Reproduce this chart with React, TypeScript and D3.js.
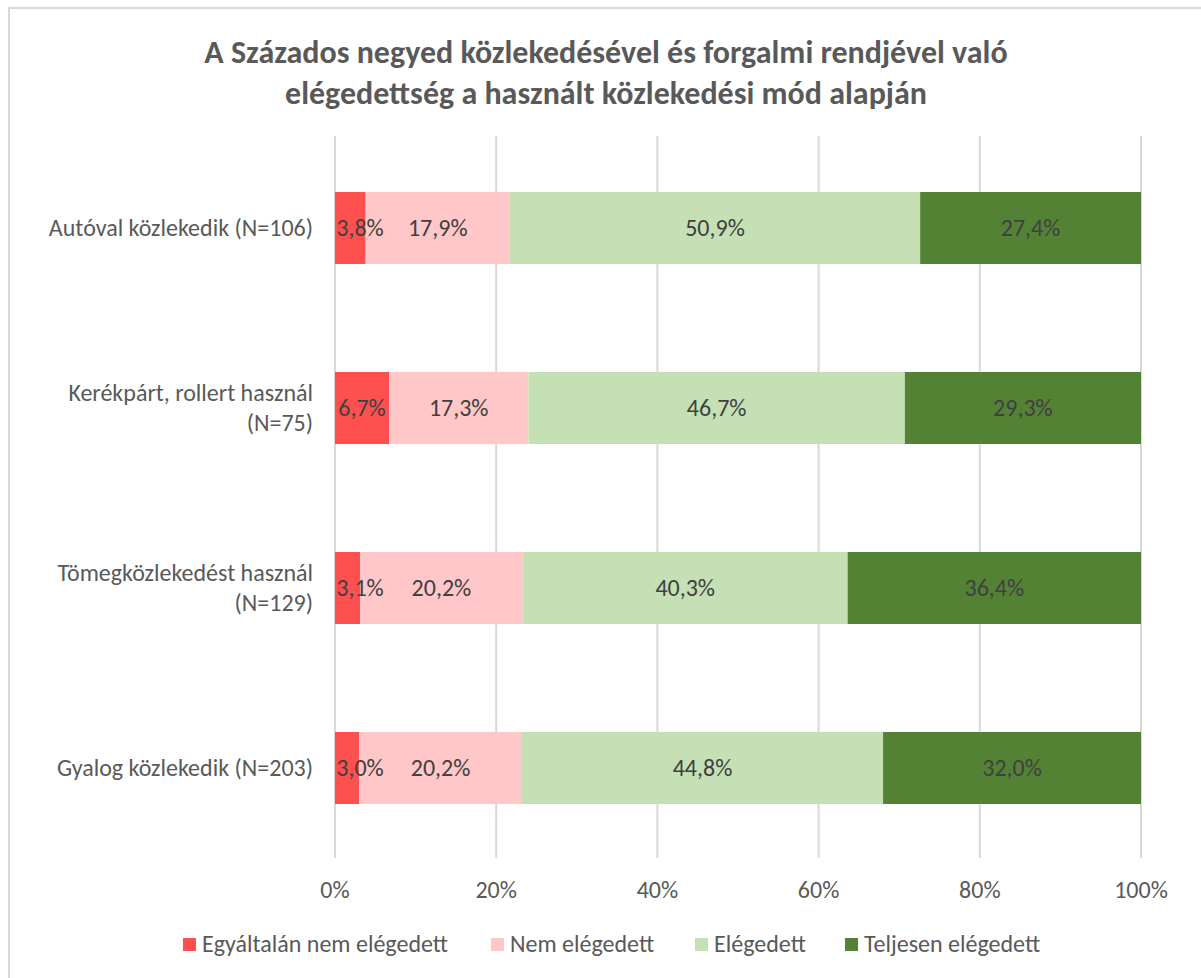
import React from "react";
import * as d3 from "d3";

const categories = [
  ["Autóval közlekedik (N=106)"],
  ["Kerékpárt, rollert használ", "(N=75)"],
  ["Tömegközlekedést használ", "(N=129)"],
  ["Gyalog közlekedik (N=203)"],
];
const seriesNames = ["Egyáltalán nem elégedett", "Nem elégedett", "Elégedett", "Teljesen elégedett"];
const seriesColors = ["#FF5050", "#FFC7C7", "#C5E0B4", "#548235"];
const values = [
  [3.8, 17.9, 50.9, 27.4],
  [6.7, 17.3, 46.7, 29.3],
  [3.1, 20.2, 40.3, 36.4],
  [3.0, 20.2, 44.8, 32.0],
];
const ticks = [0, 20, 40, 60, 80, 100];
const titleLines = [
  "A Százados negyed közlekedésével és forgalmi rendjével való",
  "elégedettség a használt közlekedési mód alapján",
];

const FONT = "Carlito, Calibri, 'Open Sans', sans-serif";

export default function App() {
  const W = 1201, H = 978;
  const left = 335, right = 1141, top = 136, bottom = 858;
  const x = d3.scaleLinear().domain([0, 100]).range([left, right]);
  const y = d3.scaleBand<number>().domain(d3.range(categories.length)).range([138, 858]).paddingInner(0.6).paddingOuter(0.3);
  const fmt = (v: number) => v.toFixed(1).replace(".", ",") + "%";
  const legendX = [183, 491, 695, 845];
  return (
    <svg width={W} height={H} style={{ position: "absolute", left: 0, top: 0 }} fontFamily={FONT}>
      <rect x={0} y={0} width={W} height={H} fill="#fff" />
      <path d={`M9,${H} V8 H${W}`} fill="none" stroke="#d9d9d9" strokeWidth={2} />
      {titleLines.map((t, i) => (
        <text key={i} x={606} y={63 + i * 41} textAnchor="middle" fontSize={32} fontWeight="bold" fill="#595959">{t}</text>
      ))}
      {ticks.map((t) => (
        <g key={t}>
          <line x1={x(t)} x2={x(t)} y1={top} y2={bottom} stroke="#d9d9d9" strokeWidth={2} />
          <text x={x(t)} y={898} textAnchor="middle" fontSize={24} fill="#595959">{t}%</text>
        </g>
      ))}
      {values.map((row, i) => {
        const stacks = d3.cumsum([0, ...row]);
        const y0 = y(i)!;
        const bh = y.bandwidth();
        return (
          <g key={i}>
            {row.map((v, j) => (
              <rect key={j} x={x(stacks[j])} y={y0} width={x(stacks[j + 1]) - x(stacks[j])} height={bh} fill={seriesColors[j]} />
            ))}
            {row.map((v, j) => (
              <text key={"l" + j} x={Math.max((x(stacks[j]) + x(stacks[j + 1])) / 2, left + 25)} y={y0 + bh / 2 + 8} textAnchor="middle" fontSize={24} fill="#404040">{fmt(v)}</text>
            ))}
            {categories[i].map((line, k) => (
              <text key={"c" + k} x={313} y={y0 + bh / 2 + 8 + (k - (categories[i].length - 1) / 2) * 30} textAnchor="end" fontSize={24} fill="#595959">{line}</text>
            ))}
          </g>
        );
      })}
      {seriesNames.map((s, j) => (
        <g key={s}>
          <rect x={legendX[j]} y={938} width={13} height={13} fill={seriesColors[j]} />
          <text x={legendX[j] + 19} y={952} fontSize={24} fill="#595959">{s}</text>
        </g>
      ))}
    </svg>
  );
}
